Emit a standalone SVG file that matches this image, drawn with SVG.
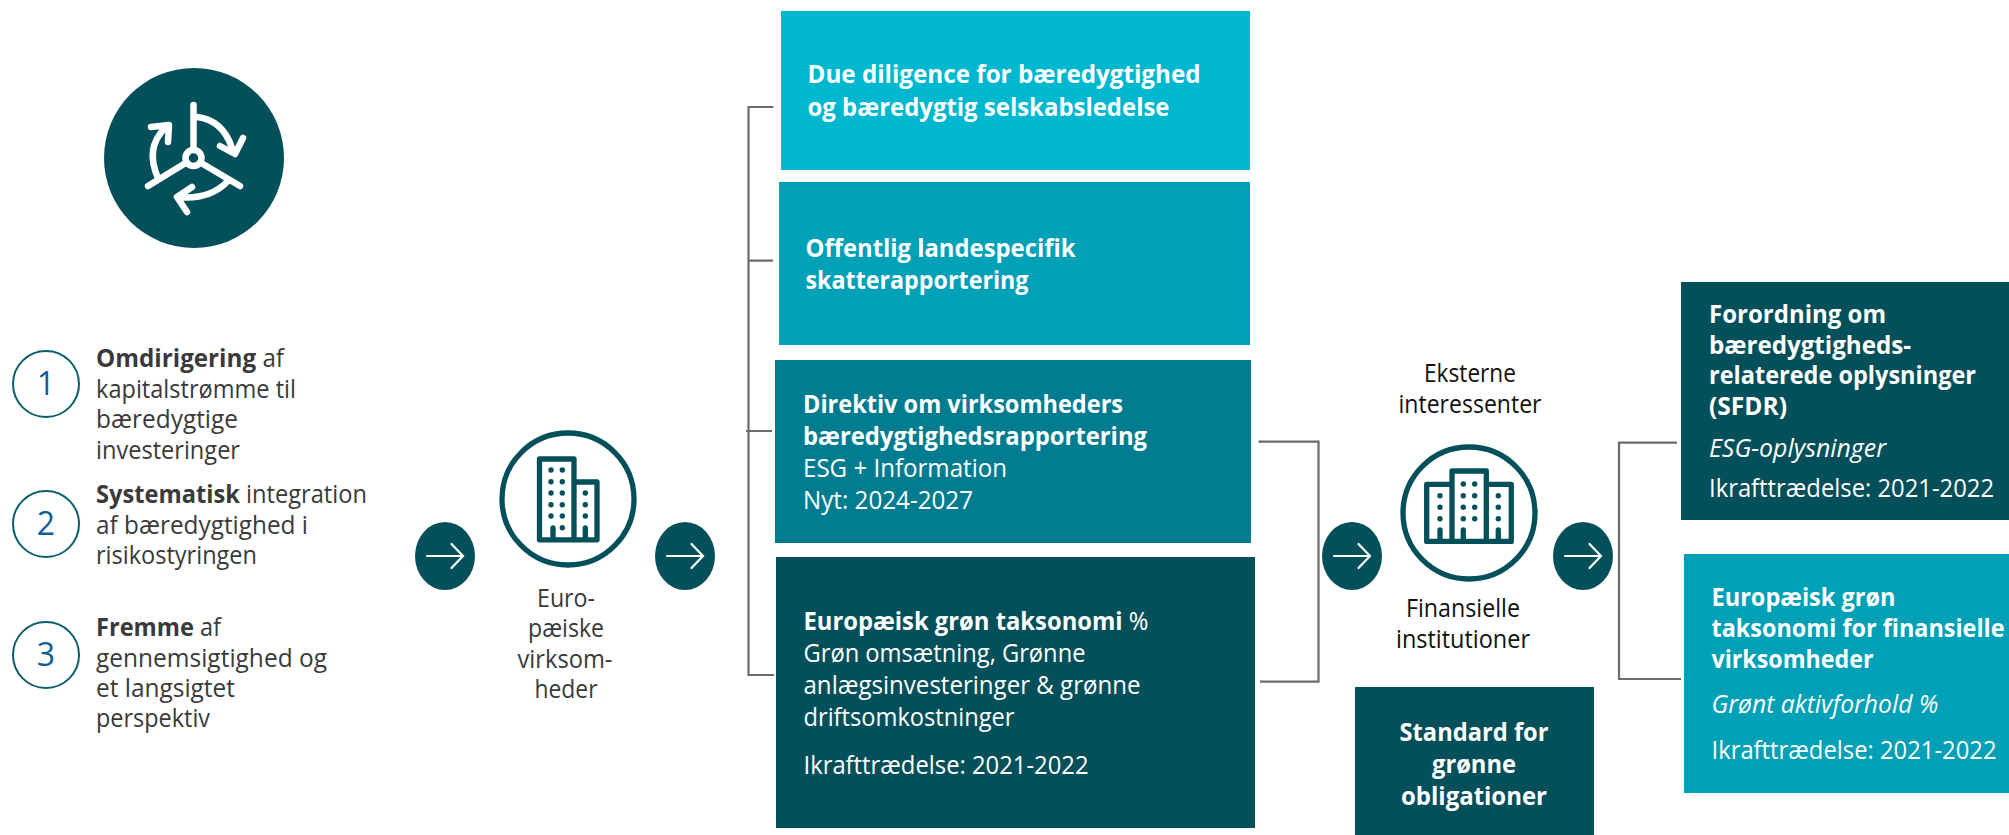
<svg xmlns="http://www.w3.org/2000/svg" width="2009" height="835" viewBox="0 0 2009 835">
<style>
text{font-family:"Open Sans","Noto Sans","Liberation Sans",sans-serif;font-size:25.500px}
.d{fill:#3a3a3a}.k{fill:#111}.w{fill:#fff}.b{font-weight:700}.s{font-weight:700}.r{font-weight:400}.i{font-style:italic}.m{text-anchor:middle}
.dark{fill:#03505A}
.ic{fill:none;stroke:#03505A;stroke-width:5.3;stroke-linejoin:round;stroke-linecap:round}
.dot{fill:#03505A}
.wl{fill:none;stroke:#fff;stroke-width:6.5;stroke-linecap:round;stroke-linejoin:round}
.ar{fill:none;stroke:#fff;stroke-width:2.2;stroke-linecap:round;stroke-linejoin:miter}
.cn{fill:none;stroke:#6a6b70;stroke-width:2.2}
.num{fill:#fff;stroke:#0a5f6b;stroke-width:2}
.nt{fill:#0f5f96;font-size:32px;text-anchor:middle}
</style>
<defs>
<g id="go"><ellipse class="dark" rx="30" ry="34"/><path class="ar" d="M-18 0H18M6.5-12 18 0 6.5 12"/></g>
</defs>
<g id="connectors">
<path class="cn" d="M773.5 107H748.5V675H774M748.5 260.7H773M746 431H772"/>
<path class="cn" d="M1258.5 441.7H1318.5V681.7H1260"/>
<path class="cn" d="M1677 442.7H1619V679H1681"/>
</g>
<g id="sustain-icon">
<circle class="dark" cx="194" cy="158" r="90"/>
<path class="wl" d="M193.500 105V147M184 164 148 186M203 164 240 186"/>
<circle cx="193.500" cy="158" r="8" fill="none" stroke="#fff" stroke-width="6.500"/>
<path class="wl" d="M197 117C214 119 226 130 232 148M220 146 235 154 243 138"/>
<path class="wl" d="M158 178C149 158 152 141 165 128M151 127 169 125 168 142"/>
<path class="wl" d="M227 182C215 194 198 199 178 197M192 187 177 197 187 212"/>
</g>
<g id="goal-1">
<circle class="num" cx="46" cy="384" r="33"/><text class="nt" x="46" y="395">1</text>
<text class="d" x="96" y="367" textLength="188" lengthAdjust="spacingAndGlyphs"><tspan class="b">Omdirigering</tspan> af</text>
<text class="d" x="96" y="398" textLength="200" lengthAdjust="spacingAndGlyphs">kapitalstrømme til</text>
<text class="d" x="96" y="428" textLength="142" lengthAdjust="spacingAndGlyphs">bæredygtige</text>
<text class="d" x="96" y="459" textLength="144" lengthAdjust="spacingAndGlyphs">investeringer</text>
</g>
<g id="goal-2">
<circle class="num" cx="46" cy="524" r="33"/><text class="nt" x="46" y="535">2</text>
<text class="d" x="96" y="503" textLength="271" lengthAdjust="spacingAndGlyphs"><tspan class="b">Systematisk</tspan> integration</text>
<text class="d" x="96" y="534" textLength="212" lengthAdjust="spacingAndGlyphs">af bæredygtighed i</text>
<text class="d" x="96" y="564" textLength="161" lengthAdjust="spacingAndGlyphs">risikostyringen</text>
</g>
<g id="goal-3">
<circle class="num" cx="46" cy="655" r="33"/><text class="nt" x="46" y="666">3</text>
<text class="d" x="96" y="636" textLength="125" lengthAdjust="spacingAndGlyphs"><tspan class="b">Fremme</tspan> af</text>
<text class="d" x="96" y="667" textLength="231" lengthAdjust="spacingAndGlyphs">gennemsigtighed og</text>
<text class="d" x="96" y="697" textLength="139" lengthAdjust="spacingAndGlyphs">et langsigtet</text>
<text class="d" x="96" y="727" textLength="114" lengthAdjust="spacingAndGlyphs">perspektiv</text>
</g>
<g id="arrow-1"><use href="#go" x="445" y="556"/></g>
<g id="arrow-2"><use href="#go" x="685" y="556"/></g>
<g id="arrow-3"><use href="#go" x="1352" y="556"/></g>
<g id="arrow-4"><use href="#go" x="1583" y="556"/></g>
<g id="companies">
<circle class="ic" cx="568" cy="499" r="66"/>
<path class="ic" d="M539.500 539.800V459H574V539.800ZM574 482H597V539.800H574M553 539.800V528M585.300 539.800V528"/>
<g class="dot">
<circle cx="551" cy="470" r="2.700"/><circle cx="562.300" cy="470" r="2.700"/><circle cx="551" cy="481.700" r="2.700"/><circle cx="562.300" cy="481.700" r="2.700"/><circle cx="551" cy="493" r="2.700"/><circle cx="562.300" cy="493" r="2.700"/><circle cx="551" cy="504.700" r="2.700"/><circle cx="562.300" cy="504.700" r="2.700"/><circle cx="551" cy="516" r="2.700"/><circle cx="562.300" cy="516" r="2.700"/><circle cx="562.300" cy="527.700" r="2.700"/><circle cx="585.300" cy="493" r="2.700"/><circle cx="585.300" cy="504.700" r="2.700"/><circle cx="585.300" cy="516" r="2.700"/>
</g>
<text class="d m" x="566" y="607" textLength="58" lengthAdjust="spacingAndGlyphs">Euro-</text>
<text class="d m" x="566" y="637" textLength="76" lengthAdjust="spacingAndGlyphs">pæiske</text>
<text class="d m" x="565" y="668" textLength="95" lengthAdjust="spacingAndGlyphs">virksom-</text>
<text class="d m" x="566" y="698" textLength="63" lengthAdjust="spacingAndGlyphs">heder</text>
</g>
<g id="box-due-diligence">
<rect x="781" y="11" width="469" height="159" fill="#00B7D0"/>
<text class="w s" x="807.500" y="83" textLength="393" lengthAdjust="spacingAndGlyphs">Due diligence for bæredygtighed</text>
<text class="w s" x="807.500" y="116" textLength="362" lengthAdjust="spacingAndGlyphs">og bæredygtig selskabsledelse</text>
</g>
<g id="box-skat">
<rect x="779" y="182" width="471" height="163" fill="#00A0B6"/>
<text class="w s" x="805.500" y="257" textLength="270" lengthAdjust="spacingAndGlyphs">Offentlig landespecifik</text>
<text class="w s" x="805.500" y="289" textLength="223" lengthAdjust="spacingAndGlyphs">skatterapportering</text>
</g>
<g id="box-direktiv">
<rect x="775" y="360" width="476" height="183" fill="#007C90"/>
<text class="w s" x="803" y="413" textLength="320" lengthAdjust="spacingAndGlyphs">Direktiv om virksomheders</text>
<text class="w s" x="803" y="445" textLength="344" lengthAdjust="spacingAndGlyphs">bæredygtighedsrapportering</text>
<text class="w" x="803" y="477" textLength="204" lengthAdjust="spacingAndGlyphs">ESG + Information</text>
<text class="w" x="803" y="509" textLength="170" lengthAdjust="spacingAndGlyphs">Nyt: 2024-2027</text>
</g>
<g id="box-taksonomi">
<rect class="dark" x="776" y="557" width="479" height="271"/>
<text class="w r" x="803.500" y="630" textLength="345" lengthAdjust="spacingAndGlyphs"><tspan class="s">Europæisk grøn taksonomi</tspan> %</text>
<text class="w" x="803.500" y="662" textLength="282" lengthAdjust="spacingAndGlyphs">Grøn omsætning, Grønne</text>
<text class="w" x="803.500" y="694" textLength="337" lengthAdjust="spacingAndGlyphs">anlægsinvesteringer &amp; grønne</text>
<text class="w" x="803.500" y="726" textLength="211" lengthAdjust="spacingAndGlyphs">driftsomkostninger</text>
<text class="w" x="803.500" y="774" textLength="285" lengthAdjust="spacingAndGlyphs">Ikrafttrædelse: 2021-2022</text>
</g>
<g id="financial">
<text class="k m" x="1470" y="382" textLength="92" lengthAdjust="spacingAndGlyphs">Eksterne</text>
<text class="k m" x="1470" y="413" textLength="143" lengthAdjust="spacingAndGlyphs">interessenter</text>
<circle class="ic" cx="1469" cy="513" r="66"/>
<path class="ic" d="M1426.700 541.400V484.400H1452M1452 541.400V471H1486.300V541.400M1486.300 484.400H1511.300V541.400H1426.700M1440 541.400V530M1463.300 541.400V530M1498.300 541.400V530"/>
<g class="dot">
<circle cx="1463.300" cy="484" r="2.700"/><circle cx="1474.700" cy="484" r="2.700"/><circle cx="1463.300" cy="495.700" r="2.700"/><circle cx="1474.700" cy="495.700" r="2.700"/><circle cx="1463.300" cy="507.300" r="2.700"/><circle cx="1474.700" cy="507.300" r="2.700"/><circle cx="1463.300" cy="518.700" r="2.700"/><circle cx="1474.700" cy="518.700" r="2.700"/><circle cx="1440" cy="495.700" r="2.700"/><circle cx="1440" cy="507.300" r="2.700"/><circle cx="1440" cy="518.700" r="2.700"/><circle cx="1498.300" cy="495.700" r="2.700"/><circle cx="1498.300" cy="507.300" r="2.700"/><circle cx="1498.300" cy="518.700" r="2.700"/>
</g>
<text class="k m" x="1463" y="617" textLength="114" lengthAdjust="spacingAndGlyphs">Finansielle</text>
<text class="k m" x="1463" y="648" textLength="134" lengthAdjust="spacingAndGlyphs">institutioner</text>
</g>
<g id="box-standard">
<rect class="dark" x="1355" y="687" width="239" height="148"/>
<text class="w s m" x="1474" y="741" textLength="149" lengthAdjust="spacingAndGlyphs">Standard for</text>
<text class="w s m" x="1474" y="773" textLength="84" lengthAdjust="spacingAndGlyphs">grønne</text>
<text class="w s m" x="1474" y="805" textLength="146" lengthAdjust="spacingAndGlyphs">obligationer</text>
</g>
<g id="box-sfdr">
<rect class="dark" x="1681" y="282" width="328" height="238"/>
<text class="w s" x="1709" y="323" textLength="177" lengthAdjust="spacingAndGlyphs">Forordning om</text>
<text class="w s" x="1709" y="354" textLength="202" lengthAdjust="spacingAndGlyphs">bæredygtigheds-</text>
<text class="w s" x="1709" y="384" textLength="267" lengthAdjust="spacingAndGlyphs">relaterede oplysninger</text>
<text class="w s" x="1709" y="414.500" textLength="78" lengthAdjust="spacingAndGlyphs">(SFDR)</text>
<text class="w i" x="1709" y="456.500" textLength="177" lengthAdjust="spacingAndGlyphs">ESG-oplysninger</text>
<text class="w" x="1709" y="497" textLength="285" lengthAdjust="spacingAndGlyphs">Ikrafttrædelse: 2021-2022</text>
</g>
<g id="box-fin-taksonomi">
<rect x="1684" y="554" width="325" height="239" fill="#00A0B6"/>
<text class="w s" x="1711.500" y="606" textLength="184" lengthAdjust="spacingAndGlyphs">Europæisk grøn</text>
<text class="w s" x="1711.500" y="636.500" textLength="293" lengthAdjust="spacingAndGlyphs">taksonomi for finansielle</text>
<text class="w s" x="1711.500" y="667.500" textLength="162" lengthAdjust="spacingAndGlyphs">virksomheder</text>
<text class="w i" x="1711.500" y="713" textLength="227" lengthAdjust="spacingAndGlyphs">Grønt aktivforhold %</text>
<text class="w" x="1711.500" y="759" textLength="285" lengthAdjust="spacingAndGlyphs">Ikrafttrædelse: 2021-2022</text>
</g>
</svg>
